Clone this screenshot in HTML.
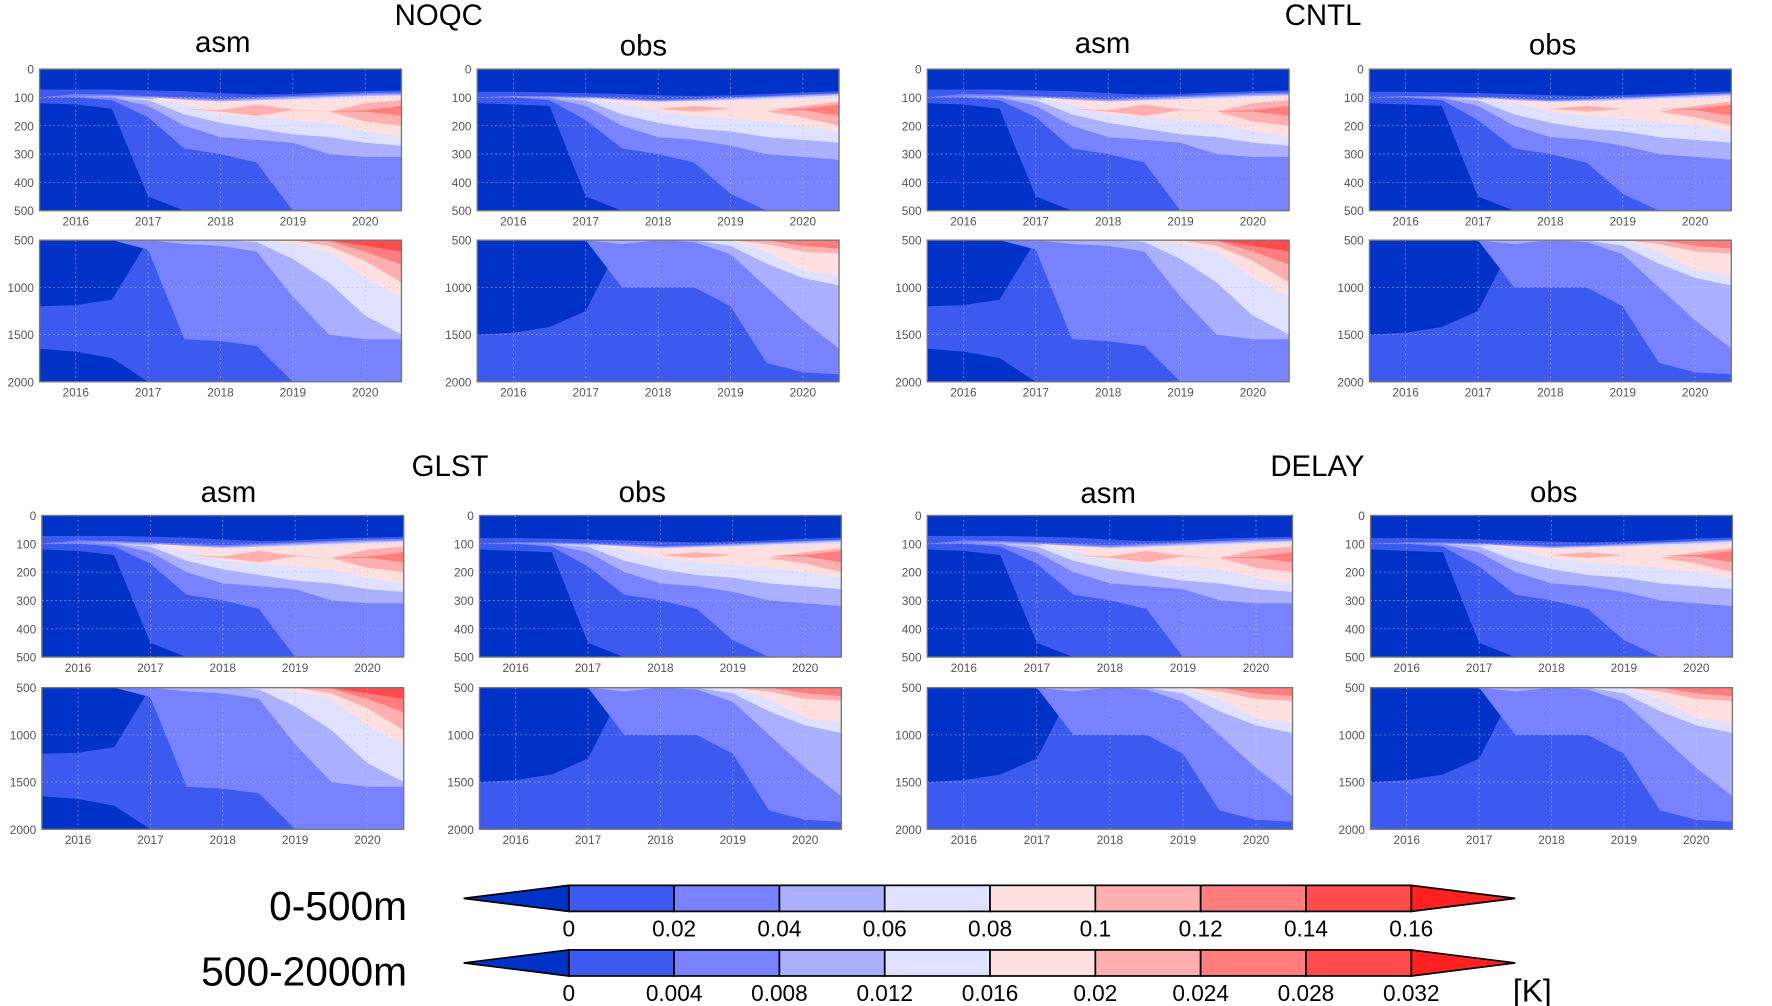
<!DOCTYPE html>
<html><head><meta charset="utf-8"><style>
html,body{margin:0;padding:0;background:#fff;}
svg{display:block;font-family:"Liberation Sans",sans-serif;}
</style></head><body>
<svg id="fig" width="1772" height="1006" viewBox="0 0 1567 888" preserveAspectRatio="none" xmlns="http://www.w3.org/2000/svg">
<g id="titles">
<text x="388" y="22" font-size="26" text-anchor="middle">NOQC</text>
<text x="1170" y="22" font-size="26" text-anchor="middle">CNTL</text>
<text x="398" y="420" font-size="26" text-anchor="middle">GLST</text>
<text x="1165" y="420" font-size="26" text-anchor="middle">DELAY</text>
<text x="197" y="46" font-size="26" text-anchor="middle">asm</text>
<text x="569" y="49" font-size="26" text-anchor="middle">obs</text>
<text x="975" y="47" font-size="26" text-anchor="middle">asm</text>
<text x="1373" y="48" font-size="26" text-anchor="middle">obs</text>
<text x="202" y="443" font-size="26" text-anchor="middle">asm</text>
<text x="568" y="443" font-size="26" text-anchor="middle">obs</text>
<text x="980" y="444" font-size="26" text-anchor="middle">asm</text>
<text x="1374" y="443" font-size="26" text-anchor="middle">obs</text>
</g>
<g id="panels"></g>
<g id="cbars">
<text x="360" y="812" font-size="36" text-anchor="end">0-500m</text>
<text x="360" y="870" font-size="36" text-anchor="end">500-2000m</text>
<text x="1355" y="884" font-size="28" text-anchor="middle">[K]</text>
</g>
</svg>
<script>
const NS="http://www.w3.org/2000/svg";
// ---- data ----
const colors=["#0032c8","#3c5af0","#7882ff","#aab0ff","#e0e0ff","#ffe0e0","#ffafaf","#ff7d7d","#ff4b4b","#ff2020"];
const times=[2015.5,2016,2016.5,2017,2017.5,2018,2018.5,2019,2019.5,2020,2020.5];
const years=[2016,2017,2018,2019,2020];
const upperTicks=[0,100,200,300,400,500];
const lowerTicks=[500,1000,1500,2000];
const cbUpperLabels=["0","0.02","0.04","0.06","0.08","0.1","0.12","0.14","0.16"];
const cbLowerLabels=["0","0.004","0.008","0.012","0.016","0.02","0.024","0.028","0.032"];
// upper asm: each level [top depths, bottom depths]
const UA1t=[72,72,72,75,78,85,90,88,82,78,75], UA1b=[120,125,140,450,500,500,500,500,500,500,500];
const UA2t=[100,88,90,95,100,105,100,95,90,85,82], UA2b=[100,100,110,170,280,300,330,500,500,500,500];
const UA3t=[95,95,95,100,105,110,105,100,95,90,88], UA3b=[95,95,100,130,200,240,250,260,300,310,310];
const UA4t=[100,100,100,105,110,115,110,105,100,95,92], UA4b=[100,100,100,110,160,190,210,230,240,260,270];
const UA5t=[100,100,100,100,108,115,112,110,108,100,95], UA5b=[100,100,100,100,125,160,170,180,190,220,240];
const UA6t=[140,140,140,140,140,145,125,142,150,120,110], UA6b=[140,140,140,140,140,150,165,145,150,185,200];
const UA7t=[140,140,140,140,140,140,140,140,150,145,130], UA7b=[140,140,140,140,140,140,140,140,150,150,165];
// upper obs
const UO1t=[80,80,82,85,88,92,95,92,88,82,78], UO1b=[120,125,130,450,500,500,500,500,500,500,500];
const UO2t=[100,95,95,98,102,108,105,100,95,90,85], UO2b=[100,100,110,180,280,300,330,440,500,500,500];
const UO3t=[100,100,100,102,106,112,108,103,98,92,88], UO3b=[100,100,102,130,200,240,250,270,300,310,320];
const UO4t=[100,100,100,105,110,115,112,108,102,98,92], UO4b=[100,100,100,110,160,190,210,220,240,250,260];
const UO5t=[100,100,100,100,110,118,115,112,110,105,100], UO5b=[100,100,100,100,120,150,165,175,185,200,220];
const UO6t=[140,140,140,140,140,140,130,140,150,130,115], UO6b=[140,140,140,140,140,140,150,140,150,170,200];
const UO7t=[140,140,140,140,140,140,140,140,140,140,125], UO7b=[140,140,140,140,140,140,140,140,140,145,165];
// lower asm
const LA1t=[1200,1190,1130,500,500,500,500,500,500,500,500], LA1b=[1650,1680,1750,2000,2000,2000,2000,2000,2000,2000,2000];
const LA2t=[500,500,500,500,500,500,500,500,500,500,500], LA2b=[500,500,500,600,1550,1570,1620,2000,2000,2000,2000];
const LA3t=[500,500,500,500,500,500,500,520,530,540,550], LA3b=[500,500,500,500,540,560,620,1100,1500,1550,1550];
const LA4t=[500,500,500,500,500,500,500,500,500,500,500], LA4b=[500,500,500,500,500,500,520,700,950,1300,1500];
const LA5t=[500,500,500,500,500,500,500,500,500,500,500], LA5b=[500,500,500,500,500,500,500,540,620,900,1100];
const LA6t=[500,500,500,500,500,500,500,500,500,500,500], LA6b=[500,500,500,500,500,500,500,500,560,720,950];
const LA7t=[500,500,500,500,500,500,500,500,500,500,500], LA7b=[500,500,500,500,500,500,500,500,510,620,760];
const LA8t=[500,500,500,500,500,500,500,500,500,500,500], LA8b=[500,500,500,500,500,500,500,500,500,560,620];
// lower obs
const LO1t=[1500,1480,1420,1250,500,500,500,500,500,500,500], LO1b=[2000,2000,2000,2000,2000,2000,2000,2000,2000,2000,2000];
const LO2t=[500,500,500,500,500,500,500,500,500,500,500], LO2b=[500,500,500,500,1000,1000,1000,1200,1800,1900,1920];
const LO3t=[500,500,500,500,500,500,500,510,520,530,540], LO3b=[500,500,500,500,540,500,520,650,1000,1350,1650];
const LO4t=[500,500,500,500,500,500,500,500,500,500,500], LO4b=[500,500,500,500,500,500,500,560,750,900,980];
const LO5t=[500,500,500,500,500,500,500,500,500,500,500], LO5b=[500,500,500,500,500,500,500,500,620,820,870];
const LO6t=[500,500,500,500,500,500,500,500,500,500,500], LO6b=[500,500,500,500,500,500,500,500,540,620,640];
const LO7t=[500,500,500,500,500,500,500,500,500,500,500], LO7b=[500,500,500,500,500,500,500,500,500,560,590];

const UA=[[UA1t,UA1b],[UA2t,UA2b],[UA3t,UA3b],[UA4t,UA4b],[UA5t,UA5b],[UA6t,UA6b],[UA7t,UA7b]];
const UO=[[UO1t,UO1b],[UO2t,UO2b],[UO3t,UO3b],[UO4t,UO4b],[UO5t,UO5b],[UO6t,UO6b],[UO7t,UO7b]];
const LA=[[LA1t,LA1b],[LA2t,LA2b],[LA3t,LA3b],[LA4t,LA4b],[LA5t,LA5b],[LA6t,LA6b],[LA7t,LA7b],[LA8t,LA8b]];
const LO=[[LO1t,LO1b],[LO2t,LO2b],[LO3t,LO3b],[LO4t,LO4b],[LO5t,LO5b],[LO6t,LO6b],[LO7t,LO7b]];

// layout (not data)
const cols=[[35,355],[422,742],[820,1140],[1211,1531],[37,357],[424,744],[820,1143],[1212,1532]];
const rowsY=[[61,186,212,337],[61,186,212,337],[61,186,212,337],[61,186,212,337],[455,580,607,732],[455,580,607,732],[455,580,607,732],[455,580,607,732]];
const kinds=[["UA","LA"],["UO","LO"],["UA","LA"],["UO","LO"],["UA","LA"],["UO","LO"],["UA","LO"],["UO","LO"]];
const sets={UA,UO,LA,LO};

function el(tag,attrs,parent){const e=document.createElementNS(NS,tag);for(const k in attrs)e.setAttribute(k,attrs[k]);parent.appendChild(e);return e;}

function drawPanel(parent,x0,x1,y0,y1,d0,d1,levels,ticks,name){
  const g=el("g",{},parent);
  
  
  const xs=t=>x0+(t-2015.5)/5*(x1-x0);
  const ys=d=>y0+(d-d0)/(d1-d0)*(y1-y0);
  const bg=el("rect",{x:x0,y:y0,width:x1-x0,height:y1-y0,fill:colors[0]},g);
  
  
  levels.forEach((lv,i)=>{
    const [top,bot]=lv;
    let pts=times.map((t,j)=>xs(t)+","+ys(top[j]));
    for(let j=times.length-1;j>=0;j--)pts.push(xs(times[j])+","+ys(bot[j]));
    const p=el("polygon",{points:pts.join(" "),fill:colors[i+1]},g);
    
    
  });
  years.forEach(yr=>{
    const l=el("line",{x1:xs(yr),x2:xs(yr),y1:y0,y2:y1,stroke:"#c8c8d8","stroke-width":0.7,"stroke-dasharray":"1.5,2.5",opacity:0.7},g);
    
    
    const t=el("text",{x:xs(yr),y:y1+13,"font-size":10.5,fill:"#555","text-anchor":"middle"},g);
    t.textContent=yr;
    
    
  });
  ticks.forEach(d=>{
    if(d!==d0&&d!==d1){
      const l=el("line",{x1:x0,x2:x1,y1:ys(d),y2:ys(d),stroke:"#c8c8d8","stroke-width":0.7,"stroke-dasharray":"1.5,2.5",opacity:0.7},g);
      
      
    }
    const t=el("text",{x:x0-5,y:ys(d)+4,"font-size":10.5,fill:"#555","text-anchor":"end"},g);
    t.textContent=d;
    
    
  });
  const f=el("rect",{x:x0,y:y0,width:x1-x0,height:y1-y0,fill:"none",stroke:"#777","stroke-width":1.2},g);
  
  
}
const pg=document.getElementById("panels");
for(let i=0;i<8;i++){
  const [x0,x1]=cols[i];const [a,b,c,d]=rowsY[i];
  drawPanel(pg,x0,x1,a,b,0,500,sets[kinds[i][0]],upperTicks,"panel-upper-"+(i+1));
  drawPanel(pg,x0,x1,c,d,500,2000,sets[kinds[i][1]],lowerTicks,"panel-lower-"+(i+1));
}
// colorbars
const cb=document.getElementById("cbars");
function drawBar(yc,labels,name){
  const g=el("g",{},cb);
  
  
  const L=503,R=1248,h=23,n=labels.length-1,w=(R-L)/n;
  const la=el("polygon",{points:`410,${yc} ${L},${yc-h/2} ${L},${yc+h/2}`,fill:colors[0],stroke:"#000","stroke-width":1.5},g);
  
  
  const ra=el("polygon",{points:`1340,${yc} ${R},${yc-h/2} ${R},${yc+h/2}`,fill:colors[9],stroke:"#000","stroke-width":1.5},g);
  
  
  for(let i=0;i<n;i++){
    const r=el("rect",{x:L+i*w,y:yc-h/2,width:w,height:h,fill:colors[i+1],stroke:"#000","stroke-width":1.5},g);
    
    
  }
  labels.forEach((s,i)=>{
    const t=el("text",{x:L+i*w,y:yc+h/2+22,"font-size":20,"text-anchor":"middle",fill:"#000"},g);
    t.textContent=s;
    
    
  });
}
drawBar(793,cbUpperLabels,"colorbar-upper");
drawBar(850,cbLowerLabels,"colorbar-lower");
</script>
</body></html>
